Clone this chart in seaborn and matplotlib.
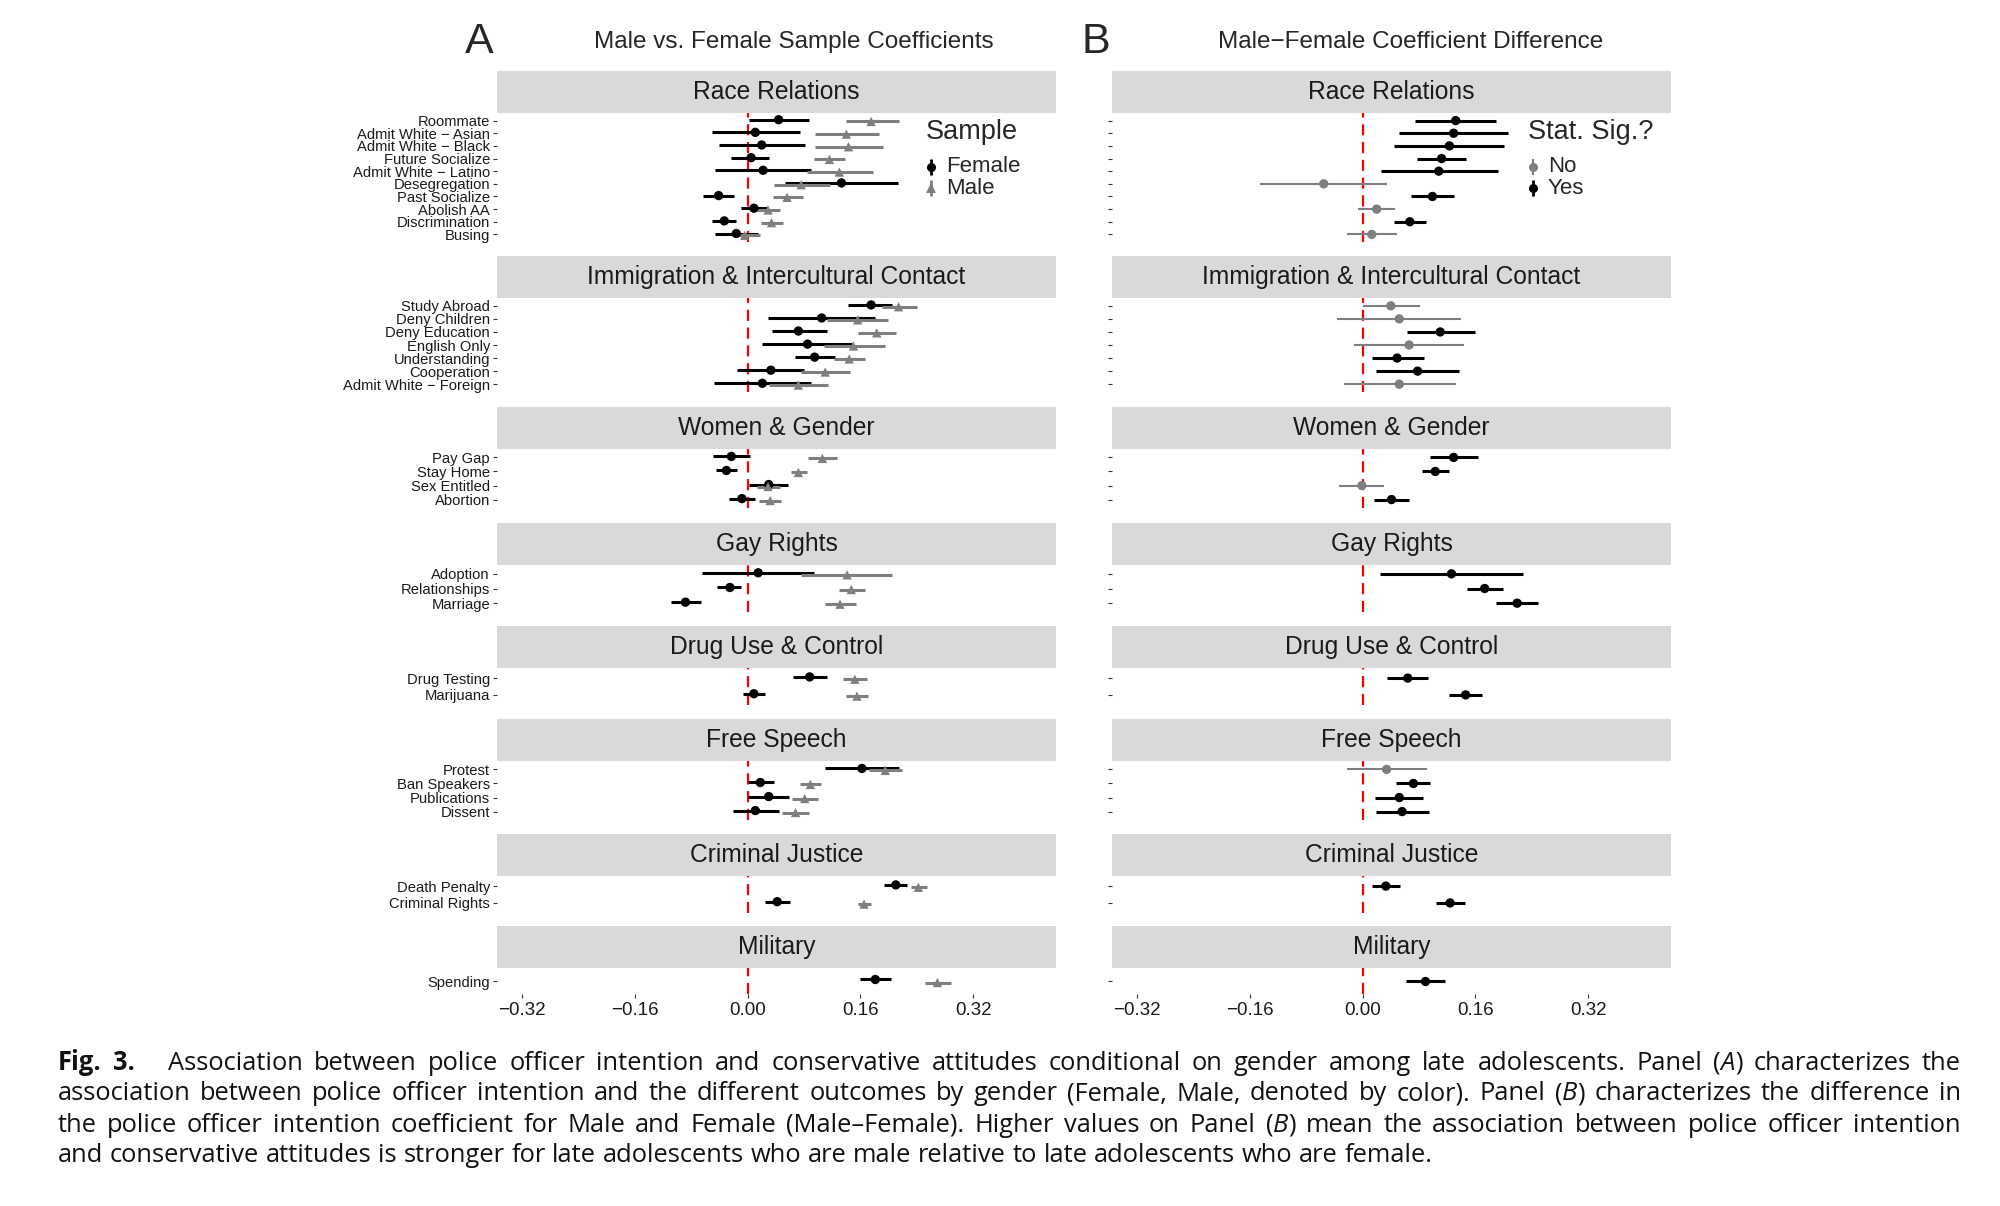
import re
import pandas as pd
import matplotlib
matplotlib.use("Agg")
import matplotlib.pyplot as plt
import seaborn as sns

# ---------------- data: (estimate, ci low, ci high) ----------------
topics = ["Race Relations", "Immigration & Intercultural Contact", "Women & Gender",
          "Gay Rights", "Drug Use & Control", "Free Speech", "Criminal Justice", "Military"]

race_items = ["Roommate", "Admit White \u2212 Asian", "Admit White \u2212 Black", "Future Socialize",
              "Admit White \u2212 Latino", "Desegregation", "Past Socialize", "Abolish AA",
              "Discrimination", "Busing"]
race_female = [(0.044, 0.002, 0.087), (0.011, -0.050, 0.074), (0.020, -0.040, 0.082),
               (0.005, -0.023, 0.031), (0.022, -0.046, 0.090), (0.133, 0.053, 0.213),
               (-0.041, -0.063, -0.019), (0.009, -0.010, 0.027), (-0.033, -0.050, -0.016),
               (-0.016, -0.046, 0.015)]
race_male = [(0.175, 0.139, 0.214), (0.140, 0.095, 0.186), (0.143, 0.095, 0.192),
             (0.116, 0.094, 0.138), (0.130, 0.084, 0.178), (0.076, 0.037, 0.117),
             (0.056, 0.036, 0.078), (0.029, 0.013, 0.046), (0.034, 0.019, 0.050),
             (-0.004, -0.022, 0.017)]
race_diff = [(0.132, 0.075, 0.189), (0.129, 0.052, 0.206), (0.123, 0.045, 0.201),
             (0.112, 0.077, 0.147), (0.108, 0.026, 0.192), (-0.055, -0.145, 0.034),
             (0.099, 0.068, 0.129), (0.020, -0.006, 0.046), (0.067, 0.045, 0.090),
             (0.013, -0.022, 0.049)]
race_sig = ["Yes", "Yes", "Yes", "Yes", "Yes", "No", "Yes", "No", "Yes", "No"]

immig_items = ["Study Abroad", "Deny Children", "Deny Education", "English Only",
               "Understanding", "Cooperation", "Admit White \u2212 Foreign"]
immig_female = [(0.175, 0.143, 0.205), (0.105, 0.029, 0.181), (0.072, 0.034, 0.112),
                (0.085, 0.021, 0.148), (0.095, 0.067, 0.124), (0.033, -0.015, 0.080),
                (0.021, -0.048, 0.090)]
immig_male = [(0.214, 0.190, 0.240), (0.156, 0.113, 0.199), (0.183, 0.157, 0.210),
              (0.150, 0.108, 0.195), (0.144, 0.122, 0.167), (0.110, 0.076, 0.145),
              (0.072, 0.031, 0.114)]
immig_diff = [(0.040, 0.000, 0.081), (0.052, -0.036, 0.140), (0.110, 0.063, 0.159),
              (0.066, -0.012, 0.144), (0.049, 0.013, 0.087), (0.078, 0.019, 0.137),
              (0.052, -0.027, 0.133)]
immig_sig = ["No", "No", "Yes", "No", "Yes", "Yes", "No"]

women_items = ["Pay Gap", "Stay Home", "Sex Entitled", "Abortion"]
women_female = [(-0.023, -0.049, 0.003), (-0.030, -0.045, -0.015),
                (0.030, 0.002, 0.058), (-0.008, -0.027, 0.011)]
women_male = [(0.106, 0.085, 0.127), (0.072, 0.061, 0.084),
              (0.029, 0.013, 0.046), (0.032, 0.016, 0.048)]
women_diff = [(0.129, 0.095, 0.163), (0.103, 0.084, 0.123),
              (-0.001, -0.033, 0.031), (0.041, 0.016, 0.066)]
women_sig = ["Yes", "Yes", "No", "Yes"]

gay_items = ["Adoption", "Relationships", "Marriage"]
gay_female = [(0.015, -0.064, 0.094), (-0.025, -0.043, -0.009), (-0.088, -0.109, -0.066)]
gay_male = [(0.141, 0.076, 0.204), (0.147, 0.129, 0.167), (0.131, 0.110, 0.153)]
gay_diff = [(0.126, 0.025, 0.228), (0.173, 0.148, 0.199), (0.219, 0.189, 0.249)]
gay_sig = ["Yes", "Yes", "Yes"]

drug_items = ["Drug Testing", "Marijuana"]
drug_female = [(0.088, 0.065, 0.112), (0.009, -0.007, 0.025)]
drug_male = [(0.152, 0.135, 0.169), (0.155, 0.139, 0.171)]
drug_diff = [(0.064, 0.035, 0.093), (0.146, 0.123, 0.169)]
drug_sig = ["Yes", "Yes"]

speech_items = ["Protest", "Ban Speakers", "Publications", "Dissent"]
speech_female = [(0.162, 0.110, 0.214), (0.018, 0.000, 0.038),
                 (0.030, 0.001, 0.059), (0.011, -0.021, 0.044)]
speech_male = [(0.195, 0.172, 0.219), (0.089, 0.075, 0.104),
               (0.081, 0.063, 0.100), (0.068, 0.049, 0.087)]
speech_diff = [(0.034, -0.022, 0.092), (0.072, 0.047, 0.096),
               (0.052, 0.018, 0.086), (0.056, 0.019, 0.094)]
speech_sig = ["No", "Yes", "Yes", "Yes"]

crime_items = ["Death Penalty", "Criminal Rights"]
crime_female = [(0.210, 0.194, 0.226), (0.042, 0.025, 0.060)]
crime_male = [(0.242, 0.232, 0.254), (0.165, 0.157, 0.175)]
crime_diff = [(0.033, 0.013, 0.053), (0.124, 0.104, 0.145)]
crime_sig = ["Yes", "Yes"]

military_items = ["Spending"]
military_female = [(0.181, 0.159, 0.203)]
military_male = [(0.269, 0.252, 0.288)]
military_diff = [(0.089, 0.062, 0.117)]
military_sig = ["Yes"]

blocks = {
    topics[0]: (race_items, race_female, race_male, race_diff, race_sig),
    topics[1]: (immig_items, immig_female, immig_male, immig_diff, immig_sig),
    topics[2]: (women_items, women_female, women_male, women_diff, women_sig),
    topics[3]: (gay_items, gay_female, gay_male, gay_diff, gay_sig),
    topics[4]: (drug_items, drug_female, drug_male, drug_diff, drug_sig),
    topics[5]: (speech_items, speech_female, speech_male, speech_diff, speech_sig),
    topics[6]: (crime_items, crime_female, crime_male, crime_diff, crime_sig),
    topics[7]: (military_items, military_female, military_male, military_diff, military_sig),
}

sample_order = ["Female", "Male"]
sig_order = ["No", "Yes"]
xticks = [-0.32, -0.16, 0.0, 0.16, 0.32]

caption_lines = [
    "Fig. 3.   Association between police officer intention and conservative attitudes conditional on gender among late adolescents. Panel (A) characterizes the",
    "association between police officer intention and the different outcomes by gender (Female, Male, denoted by color). Panel (B) characterizes the difference in",
    "the police officer intention coefficient for Male and Female (Male\u2013Female). Higher values on Panel (B) mean the association between police officer intention",
    "and conservative attitudes is stronger for late adolescents who are male relative to late adolescents who are female.",
]

# ---------------- styles / layout (pixels of the 2000x1206 canvas) ----------------
GREY = "#7F7F7F"
sample_colors = {"Female": "black", "Male": GREY}
sample_markers = {"Female": "o", "Male": "^"}
sig_colors = {"No": GREY, "Yes": "black"}
sig_lw = {"No": 1.5, "Yes": 2.2}
DODGE = 0.07

W, H = 2000, 1206
XLIM = (-0.355, 0.437)
col_left = {"A": 497, "B": 1112}
col_w = 559
strip_top = [71, 256, 407, 523, 626, 719, 834, 926]
strip_h = 42
panel_h = [129, 94, 59, 47, 37, 59, 37, 26]

sns.set_theme(style="white")
plt.rcParams["font.family"] = ["Liberation Sans", "DejaVu Sans"]
cap_family = ["Open Sans", "DejaVu Sans"]

# long tables
coef_rows, diff_rows = [], []
for t in topics:
    items, fem, male, diff, sig = blocks[t]
    for i, it in enumerate(items):
        for smp, vals, off in (("Female", fem[i], -DODGE), ("Male", male[i], DODGE)):
            coef_rows.append({"topic": t, "item": it, "Sample": smp, "y": i + off,
                              "est": vals[0], "lo": vals[1], "hi": vals[2]})
        diff_rows.append({"topic": t, "item": it, "sig": sig[i], "y": i,
                          "est": diff[i][0], "lo": diff[i][1], "hi": diff[i][2]})
coef = pd.DataFrame(coef_rows)
diffs = pd.DataFrame(diff_rows)

fig = plt.figure(figsize=(W / 100, H / 100), dpi=100)


def px_axes(x, y, w, h):
    return fig.add_axes([x / W, 1 - (y + h) / H, w / W, h / H])


for k, t in enumerate(topics):
    items = blocks[t][0]
    n = len(items)
    last = k == len(topics) - 1
    for panel in ("A", "B"):
        x0 = col_left[panel]
        sax = px_axes(x0, strip_top[k], col_w, strip_h)
        sax.set_facecolor("#D9D9D9")
        sax.set_xticks([])
        sax.set_yticks([])
        for s in sax.spines.values():
            s.set_visible(False)
        sax.text(0.5, 0.5, t, ha="center", va="center", fontsize=17.7,
                 color="#1A1A1A", transform=sax.transAxes)

        ax = px_axes(x0, strip_top[k] + strip_h, col_w, panel_h[k])
        ax.axvline(0, color="red", lw=1.6, ls=(0, (5, 3)), zorder=1)
        if panel == "A":
            sub = coef[coef.topic == t]
            for j, smp in enumerate(sample_order):
                d = sub[sub.Sample == smp]
                ax.hlines(d.y, d.lo, d.hi, color=sample_colors[smp], lw=2.2, zorder=2 + j)
            sns.scatterplot(data=sub, x="est", y="y", hue="Sample", style="Sample",
                            hue_order=sample_order, style_order=sample_order,
                            palette=sample_colors, markers=sample_markers, s=45,
                            linewidth=0, legend=False, ax=ax, zorder=4)
        else:
            sub = diffs[diffs.topic == t]
            for smp in sig_order:
                d = sub[sub.sig == smp]
                if len(d):
                    ax.hlines(d.y, d.lo, d.hi, color=sig_colors[smp], lw=sig_lw[smp], zorder=2)
            sns.scatterplot(data=sub, x="est", y="y", hue="sig", hue_order=sig_order,
                            palette=sig_colors, s=45, linewidth=0, legend=False, ax=ax, zorder=4)

        ax.set_xlim(*XLIM)
        ax.set_ylim(n - 0.4, -0.6)
        ax.set_xlabel("")
        ax.set_ylabel("")
        ax.set_facecolor("white")
        for s in ax.spines.values():
            s.set_visible(False)
        ax.set_yticks(range(n))
        ax.set_yticklabels(items if panel == "A" else [])
        ax.tick_params(axis="y", left=True, length=3, width=0.8, color="#333333",
                       labelsize=10.6, pad=2, labelcolor="#1A1A1A")
        if last:
            ax.set_xticks(xticks)
            ax.set_xticklabels([f"{v:.2f}".replace("-", "\u2212") for v in xticks])
            ax.tick_params(axis="x", bottom=True, length=3, width=0.8, color="#333333",
                           labelsize=13.5, pad=3, labelcolor="#1A1A1A")
        else:
            ax.set_xticks([])

# titles
fig.text(479 / W, 1 - 42 / H, "A", fontsize=31, ha="center", va="center")
fig.text(794 / W, 1 - 42 / H, "Male vs. Female Sample Coefficients", fontsize=17.5,
         ha="center", va="center")
fig.text(1096 / W, 1 - 42 / H, "B", fontsize=31, ha="center", va="center")
fig.text(1411 / W, 1 - 42 / H, "Male\u2212Female Coefficient Difference", fontsize=17.5,
         ha="center", va="center")

# legends, drawn in an overlay with pixel coordinates
overlay = fig.add_axes([0, 0, 1, 1], zorder=10)
overlay.set_xlim(0, W)
overlay.set_ylim(H, 0)
overlay.axis("off")


def draw_legend(x, y, title, labels, colors, markers, lws):
    overlay.text(x, y, title, fontsize=19.5, ha="left", va="center")
    for j, lab in enumerate(labels):
        yy = y + 35 + j * 21
        overlay.plot([x + 5, x + 5], [yy - 8, yy + 8], color=colors[lab], lw=lws[lab],
                     solid_capstyle="butt")
        overlay.plot([x + 5], [yy], marker=markers[lab], color=colors[lab], ms=6.5, mew=0)
        overlay.text(x + 20, yy, lab, fontsize=16, ha="left", va="center")


draw_legend(926, 132, "Sample", sample_order, sample_colors, sample_markers,
            {"Female": 2.0, "Male": 2.0})
draw_legend(1528, 132, "Stat. Sig.?", sig_order, sig_colors, {"No": "o", "Yes": "o"},
            {"No": 1.5, "Yes": 2.0})

# caption, justified word by word
renderer = fig.canvas.get_renderer()
cap_x0, cap_x1 = 58, 1961
cap_y = [1063, 1094, 1125, 1156]
avail = cap_x1 - cap_x0


def measure(txt, size, **kw):
    tt = fig.text(0, 0, txt, fontsize=size, family=cap_family, **kw)
    w = tt.get_window_extent(renderer).width
    tt.remove()
    return w


cap_size = 16.5
widest = max(measure(l, cap_size) for l in caption_lines[:-1])
cap_size *= 0.975 * avail / widest
space_w = measure("a a", cap_size) - measure("aa", cap_size)


def make_word(word, bold):
    m = re.match(r"^(.*\()([AB])(\).*)$", word)
    parts = [(m.group(1), "normal"), (m.group(2), "italic"), (m.group(3), "normal")] if m \
        else [(word, "normal")]
    arts = [fig.text(0, 0, txt, fontsize=cap_size, family=cap_family, fontstyle=st,
                     fontweight="bold" if bold else "normal", ha="left", va="center",
                     color="#111111") for txt, st in parts]
    return arts, [a.get_window_extent(renderer).width for a in arts]


for li, line in enumerate(caption_lines):
    toks = re.split(r"( +)", line)
    words = toks[0::2]
    gaps = [len(g) for g in toks[1::2]]
    built = [make_word(w, li == 0 and wi < 2) for wi, w in enumerate(words)]
    total = sum(sum(ws) for _, ws in built)
    unit = (avail - total) / sum(gaps) if li < len(caption_lines) - 1 else space_w
    x = cap_x0
    for wi, (arts, ws) in enumerate(built):
        for a, w in zip(arts, ws):
            a.set_position((x / W, 1 - cap_y[li] / H))
            x += w
        if wi < len(gaps):
            x += unit * gaps[wi]

fig.savefig("out.png", dpi=100)
